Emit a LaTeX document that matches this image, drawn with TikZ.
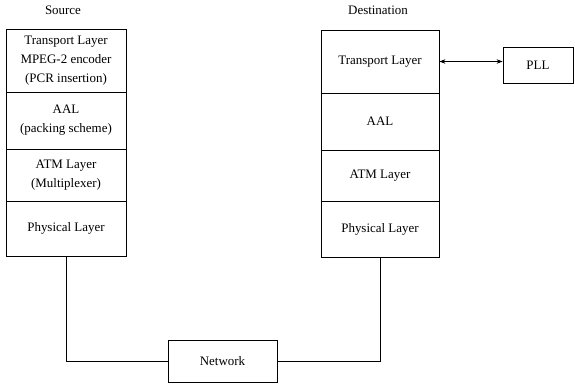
\documentclass[tikz,border=0pt]{standalone}
\usepackage{fontspec}
\setmainfont{Liberation Serif}
\usetikzlibrary{arrows.meta}
\begin{document}
\begin{tikzpicture}[x=1bp,y=-1bp,
  every node/.style={font=\fontsize{13}{19}\selectfont},
  layer/.style={draw,line width=0.8pt,inner sep=0pt,align=center,minimum width=#1},
  boxx/.style={draw,line width=0.8pt,inner sep=0pt,align=center},
  title/.style={inner sep=0pt},
  wire/.style={line width=0.8pt}]
\useasboundingbox (0,0) rectangle (575,386);
% titles
\node[title] (srcT) at (63,10) {Source};
\node[title] (dstT) at (378,10) {Destination};
% source stack
\node[layer=120bp,minimum height=63bp] (str) at (66,60.5) {Transport Layer\\MPEG-2 encoder\\(PCR insertion)};
\node[layer=120bp,minimum height=57bp] (saal) at (66,120.5) {AAL\\(packing scheme)};
\node[layer=120bp,minimum height=52bp] (satm) at (66,175) {ATM Layer\\(Multiplexer)};
\node[layer=120bp,minimum height=55bp] (sphy) at (66,228.5) {Physical Layer};
% destination stack
\node[layer=118bp,minimum height=63bp] (dtr) at (380,61.5) {Transport Layer};
\node[layer=118bp,minimum height=57bp] (daal) at (380,121.5) {AAL};
\node[layer=118bp,minimum height=51bp] (datm) at (380,175.5) {ATM Layer};
\node[layer=118bp,minimum height=56bp] (dphy) at (380,229) {Physical Layer};
% PLL
\node[boxx,minimum width=70bp,minimum height=36bp] (pll) at (538,65) {PLL};
% network
\node[boxx,minimum width=109bp,minimum height=42bp] (net) at (222.5,361) {Network};
% connectors
\draw[wire] (sphy.south) |- (net.west);
\draw[wire] (dphy.south) |- (net.east);
\draw[wire,{Stealth[length=6pt,width=4.5pt]}-{Stealth[length=6pt,width=4.5pt]}] (dtr.east) -- (pll.west |- dtr.east);
\end{tikzpicture}
\end{document}
